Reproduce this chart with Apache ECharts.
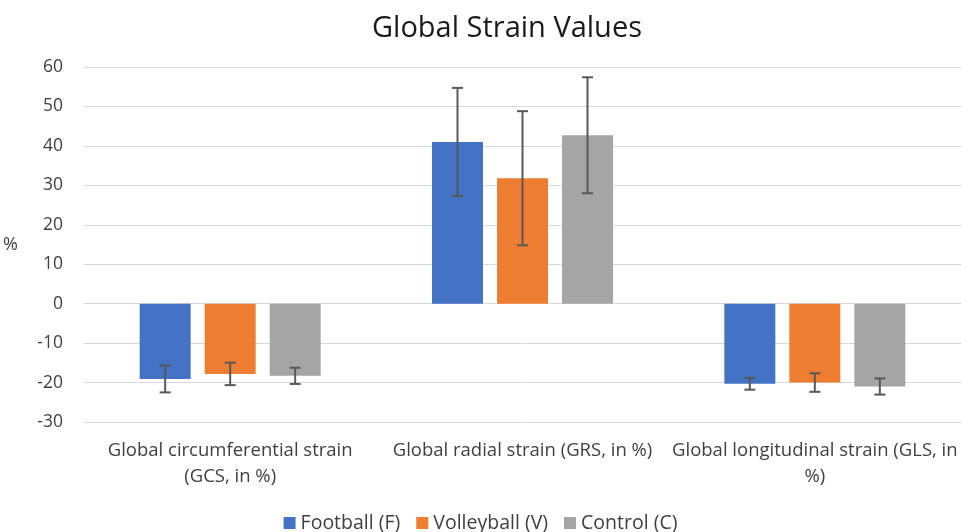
<!DOCTYPE html>
<html>
<head>
<meta charset="utf-8">
<script src="https://cdn.jsdelivr.net/npm/echarts@6/dist/echarts.min.js"></script>
<style>
	html, body { margin: 0; padding: 0; background: #fff; }
	#main { width: 961px; height: 532px; }
</style>
</head>
<body>
<div id="main"></div>
<script>
// categories and series
var categories = [
	'Global circumferential strain\n(GCS, in %)',
	'Global radial strain (GRS, in %)',
	'Global longitudinal strain (GLS, in\n%)'
];
var seriesNames = ['Football (F)', 'Volleyball (V)', 'Control (C)'];
var footballMean = [-19.1, 41.0, -20.3];
var footballSd = [3.4, 13.7, 1.5];
var volleyMean = [-17.8, 31.8, -20.0];
var volleySd = [2.85, 17.0, 2.35];
var controlMean = [-18.3, 42.7, -21.0];
var controlSd = [2.05, 14.7, 2.05];
var yTicks = { min: -30, max: 60, interval: 10 };

var colors = ['#4472C4', '#ED7D31', '#A5A5A5'];
var means = [footballMean, volleyMean, controlMean];
var sds = [footballSd, volleySd, controlSd];

var BAR_W = 51, BAR_GAP = 14;
var font = '"Open Sans", "Noto Sans", sans-serif';

var chart = echarts.init(document.getElementById('main'));

var series = [];
means.forEach(function(m, i) {
	series.push({
		name: seriesNames[i],
		type: 'bar',
		data: m,
		barWidth: BAR_W,
		barGap: (BAR_GAP / BAR_W * 100) + '%',
		itemStyle: { color: colors[i] },
		z: 2
	});
});

// error bars
means.forEach(function(m, i) {
	var errData = m.map(function(v, k) {
		return [k, v - sds[i][k], v + sds[i][k]];
	});
	series.push({
		type: 'custom',
		data: errData,
		z: 5,
		silent: true,
		renderItem: function(params, api) {
			var lo = api.coord([api.value(0), api.value(1)]);
			var hi = api.coord([api.value(0), api.value(2)]);
			var x = lo[0] + (i - 1) * (BAR_W + BAR_GAP);
			var cap = 5.5;
			var style = { stroke: '#595959', lineWidth: 2, fill: null };
			return {
				type: 'group',
				children: [
					{ type: 'line', shape: { x1: x, y1: lo[1], x2: x, y2: hi[1] }, style: style },
					{ type: 'line', shape: { x1: x - cap, y1: lo[1], x2: x + cap, y2: lo[1] }, style: style },
					{ type: 'line', shape: { x1: x - cap, y1: hi[1], x2: x + cap, y2: hi[1] }, style: style }
				]
			};
		},
		encode: { x: 0, y: [1, 2] }
	});
});

chart.setOption({
	animation: false,
	textStyle: { fontFamily: font },
	title: {
		text: 'Global Strain Values',
		left: 502,
		top: 9,
		textAlign: 'center',
		textStyle: { fontFamily: font, fontSize: 29, fontWeight: 'normal', color: '#1a1a1a' }
	},
	legend: {
		data: seriesNames,
		bottom: -6,
		left: 'center',
		icon: 'rect',
		itemWidth: 12,
		itemHeight: 12,
		itemGap: 16,
		textStyle: { fontFamily: font, fontSize: 19.5, color: '#404040' }
	},
	grid: { left: 84, right: 0, top: 67, bottom: 110, containLabel: false },
	xAxis: {
		type: 'category',
		data: categories,
		axisLine: { show: false, onZero: false },
		axisTick: { show: false },
		axisLabel: {
			fontFamily: font,
			fontSize: 18.5,
			color: '#404040',
			lineHeight: 26,
			margin: 16,
			interval: 0
		}
	},
	yAxis: {
		type: 'value',
		min: yTicks.min,
		max: yTicks.max,
		interval: yTicks.interval,
		name: '%',
		nameLocation: 'middle',
		nameRotate: 0,
		nameGap: 66,
		nameTextStyle: { fontFamily: font, fontSize: 18, color: '#404040' },
		axisLine: { show: false },
		axisTick: { show: false },
		axisLabel: { fontFamily: font, fontSize: 17.5, color: '#404040', margin: 21 },
		splitLine: { lineStyle: { color: '#d9d9d9', width: 1 } }
	},
	series: series
});
</script>
</body>
</html>
